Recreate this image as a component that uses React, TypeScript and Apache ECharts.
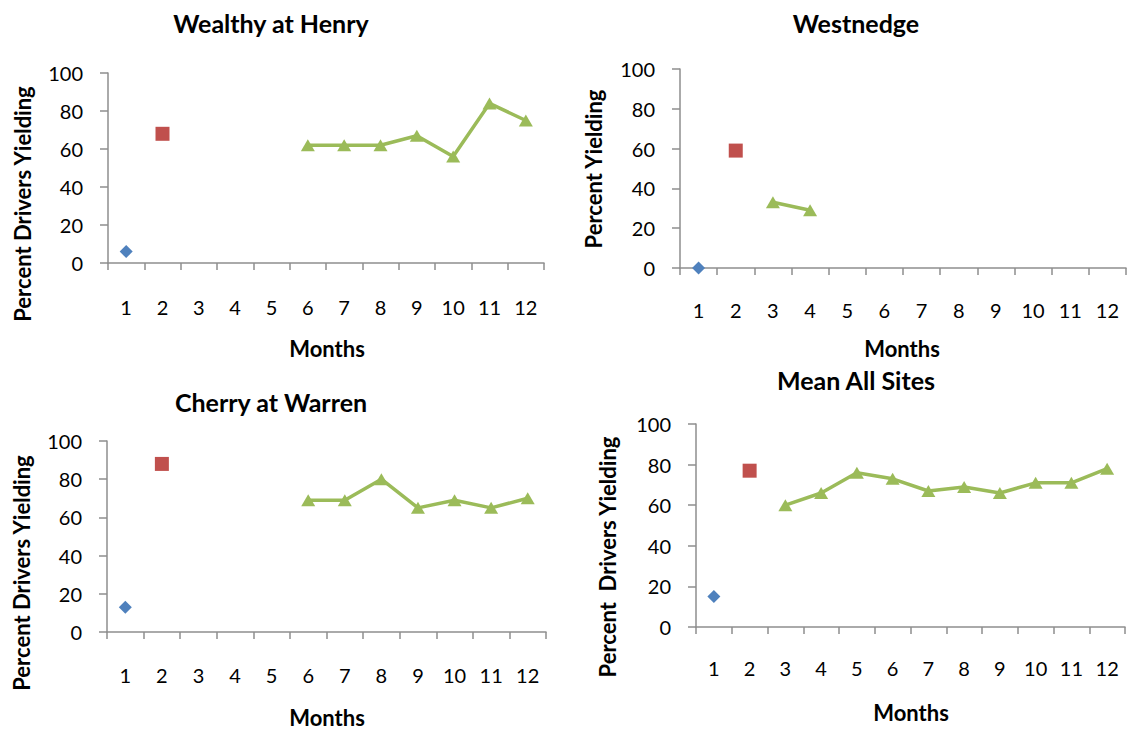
import React, { useEffect, useRef } from "react";
import * as echarts from "echarts";

const months = ["1", "2", "3", "4", "5", "6", "7", "8", "9", "10", "11", "12"];
const yTicks = [0, 20, 40, 60, 80, 100];

const wealthyA = [6, null, null, null, null, null, null, null, null, null, null, null];
const wealthyB = [null, 68, null, null, null, null, null, null, null, null, null, null];
const wealthyC = [null, null, null, null, null, 62, 62, 62, 67, 56, 84, 75];

const westA = [0, null, null, null, null, null, null, null, null, null, null, null];
const westB = [null, 59, null, null, null, null, null, null, null, null, null, null];
const westC = [null, null, 33, 29, null, null, null, null, null, null, null, null];

const cherryA = [13, null, null, null, null, null, null, null, null, null, null, null];
const cherryB = [null, 88, null, null, null, null, null, null, null, null, null, null];
const cherryC = [null, null, null, null, null, 69, 69, 80, 65, 69, 65, 70];

const meanA = [15, null, null, null, null, null, null, null, null, null, null, null];
const meanB = [null, 77, null, null, null, null, null, null, null, null, null, null];
const meanC = [null, null, 60, 66, 76, 73, 67, 69, 66, 71, 71, 78];

const titles = ["Wealthy at Henry", "Westnedge", "Cherry at Warren", "Mean All Sites"];
const yNames = ["Percent Drivers Yielding", "Percent Yielding", "Percent Drivers Yielding", "Percent  Drivers Yielding"];
const xName = "Months";

const panelData = [
  [wealthyA, wealthyB, wealthyC],
  [westA, westB, westC],
  [cherryA, cherryB, cherryC],
  [meanA, meanB, meanC],
];

const grids = [
  { left: 108, top: 73, width: 436, height: 190 },
  { left: 680, top: 69, width: 446, height: 199 },
  { left: 107, top: 441, width: 439, height: 191 },
  { left: 696, top: 424, width: 429, height: 203 },
];
const xLabelMargins = [34, 32, 33, 31];
const titlePos = [[271, 23], [856, 23], [271, 402], [856, 380]];
const yNamePos = [[22, 204], [593, 169], [21, 573], [607, 557]];
const xNamePos = [[327, 348], [902, 348], [327, 717], [911, 712]];

const FONT = "Lato, 'Open Sans', sans-serif";
const AXIS_GRAY = "#8E8E8E";
const BLUE = "#4F81BD";
const RED = "#C0504D";
const GREEN = "#9BBB59";

export default function App() {
  const ref = useRef<HTMLDivElement>(null);
  useEffect(() => {
    if (!ref.current) return;
    const chart = echarts.init(ref.current, null, { renderer: "svg" });
    const xAxes: any[] = [];
    const yAxes: any[] = [];
    const series: any[] = [];
    const graphics: any[] = [];
    grids.forEach((g, i) => {
      xAxes.push({
        type: "category",
        gridIndex: i,
        data: months,
        boundaryGap: true,
        axisLine: { lineStyle: { color: AXIS_GRAY, width: 1.5 } },
        axisTick: { show: true, length: 7, lineStyle: { color: AXIS_GRAY, width: 1.5 } },
        axisLabel: { color: "#000", fontFamily: FONT, fontSize: 20, margin: xLabelMargins[i], interval: 0 },
        splitLine: { show: false },
      });
      yAxes.push({
        type: "value",
        gridIndex: i,
        min: 0,
        max: 100,
        interval: 20,
        axisLine: { show: true, lineStyle: { color: AXIS_GRAY, width: 1.5 } },
        axisTick: { show: true, length: 8, lineStyle: { color: AXIS_GRAY, width: 1.5 } },
        axisLabel: {
          color: "#000",
          fontFamily: FONT,
          fontSize: 20,
          margin: 25,
          formatter: (v: number) => (yTicks.includes(v) ? String(v) : ""),
        },
        splitLine: { show: false },
      });
      const [a, b, c] = panelData[i];
      series.push({
        type: "line",
        xAxisIndex: i,
        yAxisIndex: i,
        data: a,
        symbol: "diamond",
        symbolSize: [13, 13],
        itemStyle: { color: BLUE },
        lineStyle: { width: 0 },
      });
      series.push({
        type: "line",
        xAxisIndex: i,
        yAxisIndex: i,
        data: b,
        symbol: "rect",
        symbolSize: 14,
        itemStyle: { color: RED },
        lineStyle: { width: 0 },
      });
      series.push({
        type: "line",
        xAxisIndex: i,
        yAxisIndex: i,
        data: c,
        symbol: "triangle",
        symbolSize: [14, 12],
        showSymbol: true,
        connectNulls: false,
        itemStyle: { color: GREEN },
        lineStyle: { color: GREEN, width: 3.5 },
      });
      graphics.push({
        type: "text",
        x: titlePos[i][0],
        y: titlePos[i][1],
        style: { text: titles[i], align: "center", verticalAlign: "middle", font: `bold 25px ${FONT}`, fill: "#000" },
      });
      graphics.push({
        type: "text",
        x: yNamePos[i][0],
        y: yNamePos[i][1],
        rotation: Math.PI / 2,
        style: { text: yNames[i], align: "center", verticalAlign: "middle", font: `bold 22px ${FONT}`, fill: "#000" },
      });
      graphics.push({
        type: "text",
        x: xNamePos[i][0],
        y: xNamePos[i][1],
        style: { text: xName, align: "center", verticalAlign: "middle", font: `bold 22px ${FONT}`, fill: "#000" },
      });
    });
    chart.setOption({
      animation: false,
      backgroundColor: "#fff",
      grid: grids.map((g) => ({ ...g, containLabel: false })),
      xAxis: xAxes,
      yAxis: yAxes,
      series,
      graphic: graphics,
    });
    return () => chart.dispose();
  }, []);
  return (
    <div
      ref={ref}
      style={{ position: "absolute", left: 0, top: 0, width: 1130, height: 732, background: "#fff" }}
    />
  );
}
